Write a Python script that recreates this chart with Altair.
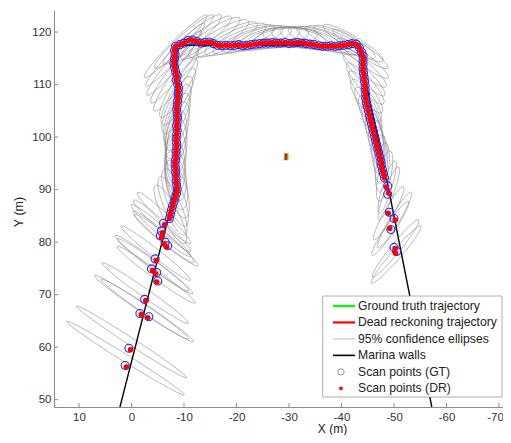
import altair as alt
import numpy as np
import pandas as pd

# ---------------- axes ----------------
X_DOMAIN = [14.76, -70.76]
Y_DOMAIN = [48.6, 124.2]
W, H = 449, 397
x_ticks = [10, 0, -10, -20, -30, -40, -50, -60, -70]
y_ticks = [50, 60, 70, 80, 90, 100, 110, 120]

# ---------------- marina walls ----------------
wall_x = [2.2, -7.6, -8.5, -8.6, -43.5, -44.3, -48.8, -57.2]
wall_y = [48.6, 87.0, 91.0, 117.5, 117.5, 112.0, 91.0, 48.6]

# ---------------- vehicle trajectories (tiny, centre of marina) ----------------
gt_traj_x = [-29.75, -29.75]
gt_traj_y = [95.6, 96.9]
dr_traj_x = [-29.35, -29.4]
dr_traj_y = [95.6, 96.9]

# ---------------- scan points ----------------
ll_dr_x = [1.0, 0.2, -1.85, -3.1, -2.7, -4.0, -4.6, -4.8, -4.7, -5.7, -6.2, -6.7, -5.9, -6.3]
ll_dr_y = [56.2, 59.5, 66.2, 65.6, 68.9, 74.6, 74.0, 72.4, 76.5, 80.9, 79.7, 79.1, 81.8, 83.3]
ll_gt_x = [1.2, 0.5, -1.6, -3.3, -2.5, -3.8, -4.8, -5.0, -4.5, -5.5, -6.4, -6.9, -5.7, -6.1]
ll_gt_y = [56.5, 59.8, 66.4, 65.8, 69.1, 74.9, 74.2, 72.6, 76.8, 81.2, 80.0, 79.3, 82.1, 83.6]

lv_x = [-7.2, -7.4, -7.6, -7.8, -8.1, -8.3, -8.6, -8.7, -8.6, -8.5, -8.5, -8.4, -8.4, -8.3,
        -8.4, -8.5, -8.5, -8.6, -8.6, -8.5, -8.6, -8.7, -8.6, -8.7, -8.8, -8.7, -8.6, -8.7,
        -8.8, -8.9, -8.9, -9.0, -8.8, -8.5, -8.7, -8.4, -8.2, -8.1, -8.2, -8.3, -8.2, -8.4]
lv_y = [84.5, 85.3, 86.1, 86.9, 87.7, 88.5, 89.3, 90.1, 90.9, 91.7, 92.5, 93.3, 94.1, 94.9,
        95.7, 96.5, 97.3, 98.1, 98.9, 99.7, 100.5, 101.3, 102.1, 102.9, 103.7, 104.5, 105.3, 106.1,
        106.9, 107.7, 108.5, 109.3, 110.1, 110.9, 111.7, 112.5, 113.3, 114.1, 114.9, 115.7, 116.5, 117.3]

top_x = [-9.2, -10.0, -10.8, -11.6, -12.4, -13.2, -14.0, -14.8, -15.6, -16.4, -17.2, -18.0, -18.8,
         -19.6, -20.4, -21.2, -22.0, -22.8, -23.6, -24.4, -25.2, -26.0, -26.8, -27.6, -28.4, -29.2,
         -30.0, -30.8, -31.6, -32.4, -33.2, -34.0, -34.8, -35.6, -36.4, -37.2, -38.0, -38.8, -39.6,
         -40.4, -41.2, -42.0, -42.8]
top_y = [117.6, 117.9, 118.4, 118.5, 118.2, 117.9, 118.0, 118.1, 117.8, 117.5, 117.4, 117.5, 117.4,
         117.5, 117.6, 117.4, 117.5, 117.6, 117.7, 117.8, 117.9, 117.9, 118.0, 117.9, 117.9, 118.0,
         117.8, 117.9, 118.0, 117.9, 117.8, 117.7, 117.6, 117.4, 117.3, 117.3, 117.4, 117.3, 117.4,
         117.5, 117.6, 117.8, 117.7]

rv_x = [-43.4, -43.8, -44.1, -44.1, -44.1, -44.1, -44.2, -44.3, -44.4, -44.5, -44.5, -44.6, -44.6,
        -44.7, -44.9, -45.1, -45.3, -45.5, -45.7, -45.9, -46.1, -46.3, -46.5, -46.7, -46.9, -47.1,
        -47.3, -47.5, -47.6, -47.8, -48.0, -48.2]
rv_y = [117.0, 116.2, 115.4, 114.6, 113.8, 113.0, 112.2, 111.4, 110.6, 109.8, 109.0, 108.2, 107.4,
        106.6, 105.8, 105.0, 104.2, 103.4, 102.6, 101.8, 101.0, 100.2, 99.4, 98.6, 97.8, 97.0,
        96.2, 95.4, 94.6, 93.8, 93.0, 92.2]

lr_dr_x = [-48.6, -49.0, -48.9, -50.2, -49.2, -50.2, -50.3]
lr_dr_y = [90.5, 89.3, 85.5, 84.2, 82.6, 78.8, 77.9]
lr_gt_x = [-48.8, -48.8, -49.1, -50.0, -49.4, -50.0, -50.5]
lr_gt_y = [90.7, 89.1, 85.7, 84.5, 82.4, 79.0, 78.2]

# ---------------- 95% confidence ellipses: centre, semi-axes, angle (deg) ----------------
e_cx = [1.15, 0.0, -1.9, -3.0, -2.6, -3.9, -4.5, -4.7, -4.6, -5.6, -6.1, -6.6, -5.8, -6.2,
        -7.4, -7.8, -8.3, -8.7, -8.5, -8.4, -8.3, -8.5, -8.6, -8.5, -8.7, -8.7, -8.7, -8.7, -8.9,
        -9.0, -8.5, -8.4, -8.1, -8.3, -8.4,
        -10.0, -11.6, -13.4, -15.0, -16.6, -18.2, -19.8, -21.4, -23.0, -24.6, -26.2, -27.8, -29.4,
        -31.0, -32.6, -34.2, -35.8, -37.4, -39.0, -40.6, -42.2,
        -43.6, -44.1, -44.1, -44.3, -44.5, -44.6, -44.7, -45.1, -45.5, -45.9, -46.3, -46.7, -47.1,
        -47.5, -47.8, -48.2,
        -48.7, -49.0, -49.0, -50.1, -49.3, -50.3, -50.4]
e_cy = [57.9, 61.0, 67.6, 67.0, 70.3, 76.0, 75.4, 73.8, 77.9, 82.2, 81.0, 80.4, 83.1, 84.6,
        85.3, 86.9, 88.5, 90.1, 91.7, 93.3, 94.9, 96.5, 98.1, 99.7, 101.3, 102.9, 104.5, 106.1, 107.7,
        109.3, 110.9, 112.5, 114.1, 115.7, 117.3,
        118.2, 118.6, 118.7, 118.8, 118.7, 118.6, 118.6, 118.6, 118.7, 118.8, 118.8, 118.9, 118.9,
        118.9, 118.8, 118.7, 118.6, 118.4, 118.3, 118.1, 117.9,
        116.8, 115.0, 113.4, 111.8, 110.2, 108.6, 107.0, 105.4, 103.8, 102.2, 100.6, 99.0, 97.4,
        95.8, 94.2, 92.6,
        90.5, 89.3, 85.5, 84.2, 82.6, 78.8, 77.6]
e_a = [13.2, 12.5, 10.8, 10.6, 10.0, 8.8, 8.9, 9.2, 8.4, 7.5, 7.6, 7.7, 7.3, 7.0,
       6.2, 6.0, 5.8, 5.7, 5.6, 5.5, 5.5, 5.5, 5.5, 5.5, 5.6, 5.7, 5.9, 6.0, 6.2,
       6.5, 7.2, 7.6, 8.0, 8.2, 8.4,
       7.5, 7.2, 7.0, 6.8, 6.6, 6.5, 6.4, 6.3, 6.2, 6.1, 6.0, 6.0, 6.0,
       6.0, 6.0, 6.1, 6.2, 6.3, 6.4, 6.5, 6.6,
       6.4, 6.1, 5.8, 5.5, 5.2, 5.0, 4.8, 4.6, 4.5, 4.5, 4.5, 4.5, 4.5,
       4.6, 4.7, 4.9,
       5.2, 5.4, 5.8, 6.2, 6.2, 7.0, 7.2]
e_b = [0.7, 0.7, 0.8, 0.8, 0.8, 0.8, 0.8, 0.8, 0.8, 0.9, 0.9, 0.9, 0.9, 0.9,
       1.5, 1.6, 1.7, 1.8, 1.9, 1.9, 1.9, 1.9, 1.9, 1.9, 1.9, 1.8, 1.7, 1.6, 1.5,
       1.4, 1.3, 1.2, 1.1, 1.0, 1.0,
       1.2, 1.3, 1.4, 1.5, 1.6, 1.6, 1.7, 1.7, 1.7, 1.8, 1.8, 1.8, 1.8,
       1.8, 1.8, 1.7, 1.7, 1.6, 1.5, 1.4, 1.3,
       1.1, 1.1, 1.2, 1.2, 1.3, 1.3, 1.4, 1.4, 1.4, 1.4, 1.4, 1.4, 1.4,
       1.3, 1.2, 1.2,
       0.9, 0.9, 0.9, 0.9, 0.9, 0.9, 0.9]
e_ang = [32, 33, 34, 34, 35, 37, 36, 36, 38, 41, 40, 39, 42, 44,
         63, 67, 70, 74, 78, 82, 86, 91, 95, 99, 104, 108, 111, 115, 119,
         122, 125, 128, 130, 133, 135,
         138, 140, 143, 146, 149, 152, 155, 158, 161, 164, 167, 170, 174,
         8, 12, 15, 18, 21, 24, 27, 31,
         35, 38, 41, 45, 48, 52, 55, 60, 65, 70, 76, 81, 87,
         92, 97, 102,
         107, 110, 119, 121, 124, 129, 131]

# ---------------- legend ----------------
leg_labels = ["Ground truth trajectory", "Dead reckoning trajectory", "95% confidence ellipses",
              "Marina walls", "Scan points (GT)", "Scan points (DR)"]
leg_line_colors = ["#00ff00", "#ff0000", "#a0a0a0", "#000000"]
leg_line_widths = [2.2, 2.2, 0.7, 1.6]

# ================= build tables =================
t = np.linspace(0, 2 * np.pi, 49)
ell_rows = []
for i, (cx, cy, a, b, ang) in enumerate(zip(e_cx, e_cy, e_a, e_b, e_ang)):
    th = np.deg2rad(ang)
    ex = cx + a * np.cos(t) * np.cos(th) - b * np.sin(t) * np.sin(th)
    ey = cy + a * np.cos(t) * np.sin(th) + b * np.sin(t) * np.cos(th)
    for k in range(len(t)):
        ell_rows.append({"eid": i, "k": k, "x": ex[k], "y": ey[k]})
ell_df = pd.DataFrame(ell_rows)

walls_df = pd.DataFrame({"x": wall_x, "y": wall_y, "k": range(len(wall_x))})
gt_traj_df = pd.DataFrame({"x": gt_traj_x, "y": gt_traj_y, "k": [0, 1]})
dr_traj_df = pd.DataFrame({"x": dr_traj_x, "y": dr_traj_y, "k": [0, 1]})

dr_x = ll_dr_x + lv_x + top_x + rv_x + lr_dr_x
dr_y = ll_dr_y + lv_y + top_y + rv_y + lr_dr_y
gt_x = ll_gt_x + lv_x + top_x + rv_x + lr_gt_x
gt_y = ll_gt_y + lv_y + top_y + rv_y + lr_gt_y
dr_df = pd.DataFrame({"x": dr_x, "y": dr_y})
gt_df = pd.DataFrame({"x": gt_x, "y": gt_y})

FONT = "Liberation Sans"
xaxis = alt.Axis(values=x_ticks, ticks=False, grid=False, domainColor="#8c8c8c", domainWidth=1,
                 labelColor="#333333", labelFont=FONT, labelFontSize=11.5, labelPadding=4,
                 labelOffset={"condition": {"test": "datum.value === -70", "value": -4}, "value": 0},
                 labelExpr="'' + datum.value", title="X (m)", titleFont=FONT, titleFontSize=12,
                 titleFontWeight="normal", titleColor="#222222", titleX=278, titleY=25.3,
                 titleAlign="center", titleBaseline="alphabetic")
yaxis = alt.Axis(values=y_ticks, ticks=False, grid=False, domainColor="#8c8c8c", domainWidth=1,
                 labelColor="#333333", labelFont=FONT, labelFontSize=11.5, labelPadding=3,
                 labelExpr="'' + datum.value", title="Y (m)", titleFont=FONT, titleFontSize=12.5,
                 titleFontWeight="normal", titleColor="#222222", titleX=-36, titleY=H / 2 + 3,
                 titleAlign="center", titleBaseline="middle", titleAngle=270)


def X():
    return alt.X("x:Q", scale=alt.Scale(domain=X_DOMAIN, nice=False, zero=False), axis=xaxis)


def Y():
    return alt.Y("y:Q", scale=alt.Scale(domain=Y_DOMAIN, nice=False, zero=False), axis=yaxis)


ellipses = alt.Chart(ell_df).mark_line(stroke="#8a8a8a", strokeWidth=0.6, clip=True).encode(
    x=X(), y=Y(), detail="eid:N", order="k:Q")
walls = alt.Chart(walls_df).mark_line(stroke="#000000", strokeWidth=1.4, clip=True).encode(
    x=X(), y=Y(), order="k:Q")
gt_traj = alt.Chart(gt_traj_df).mark_line(stroke="#00ff00", strokeWidth=1.5).encode(
    x=X(), y=Y(), order="k:Q")
dr_traj = alt.Chart(dr_traj_df).mark_line(stroke="#ff0000", strokeWidth=2.5).encode(
    x=X(), y=Y(), order="k:Q")
gt_pts = alt.Chart(gt_df).mark_point(shape="circle", filled=False, stroke="#1a2cff",
                                     strokeWidth=1.1, size=64, opacity=1).encode(x=X(), y=Y())
dr_pts = alt.Chart(dr_df).mark_circle(color="#ff0000", size=30, opacity=1).encode(x=X(), y=Y())

x_tick_df = pd.DataFrame({"x": x_ticks})
y_tick_df = pd.DataFrame({"y": y_ticks})
xt = alt.Chart(x_tick_df).mark_rule(color="#8c8c8c", strokeWidth=1).encode(
    x=X(), y=alt.value(H), y2=alt.value(H - 4))
yt = alt.Chart(y_tick_df).mark_rule(color="#8c8c8c", strokeWidth=1).encode(
    y=Y(), x=alt.value(0), x2=alt.value(4))

main = alt.layer(ellipses, walls, gt_traj, dr_traj, gt_pts, dr_pts, xt, yt)

# legend
row_scale = alt.Scale(domain=[0, 5], range=[296, 378.3])
leg_df = pd.DataFrame({"row": list(range(6)), "label": leg_labels})
leg_line_df = pd.DataFrame({"row": list(range(4)), "col": leg_line_colors, "sw": leg_line_widths})
box = alt.Chart(pd.DataFrame({"a": [0]})).mark_rect(fill="white", stroke="#9a9a9a", strokeWidth=0.8).encode(
    x=alt.value(268.7), x2=alt.value(448), y=alt.value(286), y2=alt.value(387))
leg_lines = alt.Chart(leg_line_df).mark_rule().encode(
    x=alt.value(279), x2=alt.value(301),
    y=alt.Y("row:Q", scale=row_scale, axis=None),
    color=alt.Color("col:N", scale=None),
    strokeWidth=alt.StrokeWidth("sw:Q", scale=None))
leg_text = alt.Chart(leg_df).mark_text(align="left", baseline="middle", font=FONT, fontSize=12.2,
                                       color="#222222").encode(
    x=alt.value(304), y=alt.Y("row:Q", scale=row_scale, axis=None), text="label:N")
leg_gt = alt.Chart(pd.DataFrame({"row": [4]})).mark_point(shape="circle", filled=False, stroke="#666a77",
                                                        strokeWidth=1, size=40).encode(
    x=alt.value(287), y=alt.Y("row:Q", scale=row_scale, axis=None))
leg_dr = alt.Chart(pd.DataFrame({"row": [5]})).mark_circle(color="#ff0000", size=14, opacity=1).encode(
    x=alt.value(287), y=alt.Y("row:Q", scale=row_scale, axis=None))
legend = alt.layer(box, leg_lines, leg_text, leg_gt, leg_dr)

chart = alt.layer(main, legend).resolve_scale(y="independent", x="independent").properties(
    width=W, height=H,
    autosize=alt.AutoSizeParams(type="none"),
    padding={"left": 46, "top": 2, "right": 0, "bottom": 28},
    background="white",
).configure_view(stroke=None)

chart.save("out.html", embed_options={"renderer": "svg", "actions": False})
